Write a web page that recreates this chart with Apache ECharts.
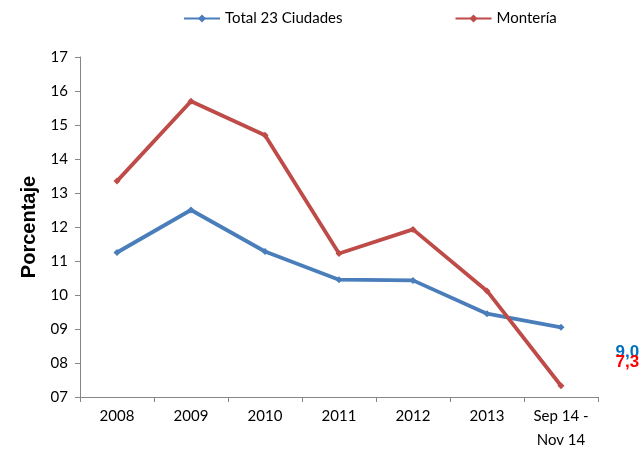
<!DOCTYPE html>
<html>
<head>
<meta charset="utf-8">
<script src="https://cdn.jsdelivr.net/npm/echarts@6/dist/echarts.min.js"></script>
<style>
  html, body { margin: 0; padding: 0; background: #fff; }
  #chart { width: 643px; height: 450px; }
</style>
</head>
<body>
<div id="chart"></div>
<script>
const categories = ["2008", "2009", "2010", "2011", "2012", "2013", "Sep 14 -\nNov 14"];
const total23 = [11.25, 12.5, 11.28, 10.45, 10.43, 9.45, 9.05];
const monteria = [13.35, 15.7, 14.7, 11.22, 11.93, 10.12, 7.33];
const lastLabels = { total: "9,0", monteria: "7,3" };

const font = "Lato, 'Open Sans', sans-serif";
const boldFont = "'Liberation Sans', Arial, sans-serif";

// only the last point carries a data label, as in the original
function withEndLabel(values, text, color, offset) {
  return values.map((v, i) => i < values.length - 1 ? v : {
    value: v,
    label: {
      show: true,
      position: "right",
      offset: offset,
      formatter: text,
      color: color,
      fontSize: 17,
      fontWeight: "bold",
      fontFamily: boldFont,
    },
  });
}

const chart = echarts.init(document.getElementById("chart"));
chart.setOption({
  animation: false,
  textStyle: { fontFamily: font },
  legend: {
    top: 6,
    left: 178,
    itemWidth: 36,
    itemHeight: 10,
    itemGap: 112,
    textStyle: { fontSize: 15, color: "#000", fontFamily: font },
    data: ["Total 23 Ciudades", "Montería"],
  },
  grid: { left: 80, right: 45, top: 57, bottom: 53, outerBoundsMode: "none", containLabel: false },
  xAxis: {
    type: "category",
    data: categories,
    boundaryGap: true,
    axisLine: { lineStyle: { color: "#868686", width: 1 } },
    axisTick: { show: true, length: 5, alignWithLabel: false, lineStyle: { color: "#868686" } },
    axisLabel: { color: "#000", fontSize: 15, margin: 7, lineHeight: 24, fontFamily: font },
    splitLine: { show: false },
  },
  yAxis: {
    type: "value",
    min: 7,
    max: 17,
    interval: 1,
    name: "Porcentaje",
    nameLocation: "middle",
    nameGap: 38,
    nameTextStyle: { fontSize: 20, fontWeight: "bold", color: "#000", fontFamily: boldFont },
    axisLine: { show: true, lineStyle: { color: "#868686", width: 1 } },
    axisTick: { show: true, length: 5, lineStyle: { color: "#868686" } },
    axisLabel: {
      color: "#000",
      fontSize: 15,
      margin: 12,
      fontFamily: font,
      formatter: (v) => String(v).padStart(2, "0"),
    },
    splitLine: { show: false },
  },
  series: [
    {
      name: "Total 23 Ciudades",
      type: "line",
      data: withEndLabel(total23, lastLabels.total, "#0070C0", [46, 25]),
      symbol: "diamond",
      symbolSize: 7,
      lineStyle: { color: "#4A7EBB", width: 3.8 },
      itemStyle: { color: "#4A7EBB" },
    },
    {
      name: "Montería",
      type: "line",
      data: withEndLabel(monteria, lastLabels.monteria, "#FF0000", [46, -23]),
      symbol: "diamond",
      symbolSize: 7,
      lineStyle: { color: "#BE4B48", width: 3.8 },
      itemStyle: { color: "#BE4B48" },
    },
  ],
});
</script>
</body>
</html>
